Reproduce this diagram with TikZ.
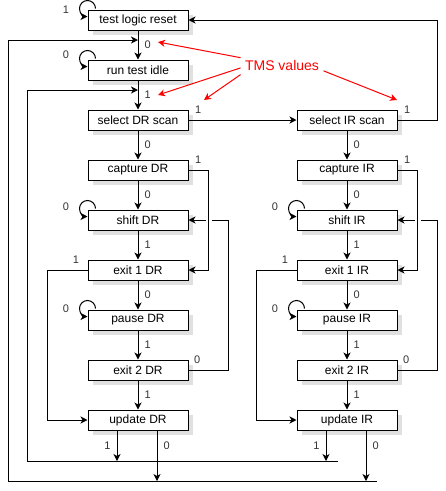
\documentclass[tikz,border=0pt]{standalone}
\usepackage{fontspec}
\setmainfont{Liberation Sans}
\usetikzlibrary{arrows.meta}
\usetikzlibrary{positioning}
\usetikzlibrary{shadows}
\tikzset{>={Stealth[length=7pt, width=7pt, inset=2pt]},
         statebox/.style = {draw, fill=white, minimum width=100pt,
                            minimum height=20pt, inner sep=0pt,
                            font=\fontsize{12}{14}\selectfont,
                            drop shadow={shadow xshift=5pt, shadow yshift=-5pt,
                                         fill=black!12, opacity=1}},
         bitlabel/.style = {font=\fontsize{11}{13}\selectfont, text=black!80,
                            inner sep=0pt},
         tmsnote/.style = {font=\fontsize{14}{16}\selectfont, text=red,
                           inner sep=4pt}}

\begin{document}
\begin{tikzpicture}[x=1pt, y=-1pt, line width=1pt]
    \useasboundingbox (0,0) rectangle (446,491);

    \node [statebox] (tlr) at (138,20) {test logic reset};
    \node [statebox] (rti) at (138,70) {run test idle};

    \coordinate (jtop) at (138,40);
    \coordinate (jmid) at (138,90);
    \coordinate (outer) at (8,481);
    \coordinate (outerend) at (377,481);
    \coordinate (inner) at (27,461);
    \coordinate (innerend) at (338,461);

    % one column per register
    \foreach \reg/\x in {DR/138, IR/347} {
        \node [statebox] (sel\reg) at (\x,120) {select \reg\ scan};
        \node [statebox] (cap\reg) at (\x,170) {capture \reg};
        \node [statebox] (shift\reg) at (\x,220) {shift \reg};
        \node [statebox] (exa\reg) at (\x,270) {exit 1 \reg};
        \node [statebox] (pause\reg) at (\x,320) {pause \reg};
        \node [statebox] (exb\reg) at (\x,370) {exit 2 \reg};
        \node [statebox] (upd\reg) at (\x,420) {update \reg};

        \draw [->] (sel\reg) -- node [bitlabel, right=6pt] (lsel\reg) {0} (cap\reg);
        \draw [->] (cap\reg) -- node [bitlabel, right=6pt] (lcap\reg) {0} (shift\reg);
        \draw [->] (shift\reg) -- node [bitlabel, right=6pt] (lsh\reg) {1} (exa\reg);
        \draw [->] (exa\reg) -- node [bitlabel, right=6pt] (lexa\reg) {0} (pause\reg);
        \draw [->] (pause\reg) -- node [bitlabel, right=6pt] (lpa\reg) {1} (exb\reg);
        \draw [->] (exb\reg) -- node [bitlabel, right=6pt] (lexb\reg) {1} (upd\reg);

        \draw [->] ([xshift=8pt, yshift=1pt]shift\reg.north west)
            arc [start angle=0, end angle=270, radius=8pt];
        \node [bitlabel, left=18pt, yshift=3pt] (lpsh\reg) at (shift\reg.north west) {0};
        \draw [->] ([xshift=8pt, yshift=1pt]pause\reg.north west)
            arc [start angle=0, end angle=270, radius=8pt];
        \node [bitlabel, left=18pt, yshift=1pt] (lppa\reg) at (pause\reg.north west) {0};

        \draw [->] (exb\reg.east) -- ++(40,0) |- (shift\reg.east);
        \node [bitlabel, right=5pt] (lbxb\reg) at (exb\reg.north east) {0};
        \draw [white, line width=3pt] ([xshift=17pt]shift\reg.east) -- ([xshift=23pt]shift\reg.east);
        \draw [->] (cap\reg.east) -- ++(20,0) |- (exa\reg.east);
        \node [bitlabel, right=6pt] (lbcap\reg) at (cap\reg.north east) {1};
        \draw [->] (exa\reg.west) -- ++(-40,0) |- (upd\reg.west);
        \node [bitlabel, left=8pt] (lbxa\reg) at (exa\reg.north west) {1};

        \coordinate (uone\reg) at ([xshift=-21pt]upd\reg.south);
        \coordinate (uzero\reg) at ([xshift=19pt]upd\reg.south);
        \draw [->] (uone\reg) -- node [bitlabel, left=6pt] (luo\reg) {1} (uone\reg |- inner);
        \draw [->] (uzero\reg) -- node [pos=0.3, bitlabel, right=6pt] (luz\reg) {0} (uzero\reg |- outer);
    }

    \draw [->] (tlr) -- node [bitlabel, right=6pt] (ltlr) {0} (rti);
    \draw [->] (rti) -- node [bitlabel, right=6pt] (lrti) {1} (selDR);
    \draw [->] (selDR) -- (selIR);
    \node [bitlabel, right=6pt] (lseldr) at (selDR.north east) {1};
    \draw [->] (selIR.east) -- ++(40,0) |- (tlr.east);
    \node [bitlabel, right=6pt] (lselir) at (selIR.north east) {1};
    \draw [->] (outerend) -- (outer) |- (jtop);
    \draw [->] (innerend) -- (inner) |- (jmid);

    \draw [->] ([xshift=8pt, yshift=1pt]tlr.north west)
        arc [start angle=0, end angle=270, radius=8pt];
    \node [bitlabel, left=18pt] (ltlrloop) at (tlr.north west) {1};
    \draw [->] ([xshift=8pt, yshift=1pt]rti.north west)
        arc [start angle=0, end angle=270, radius=8pt];
    \node [bitlabel, left=18pt, yshift=5pt] (lrtiloop) at (rti.north west) {0};

    % annotation
    \node [tmsnote] (tms) at (282,65) {TMS values};
    \coordinate (tipa) at (158,42);
    \coordinate (tipb) at (158,95);
    \coordinate (tipc) at (204,100);
    \coordinate (tipd) at (397,100);
    \draw [->, red] (tms.170) -- (tipa);
    \draw [->, red] (tms.184) -- (tipb);
    \draw [->, red] (tms.south west) -- (tipc);
    \draw [->, red] (tms.-8) -- (tipd);
\end{tikzpicture}
\end{document}
